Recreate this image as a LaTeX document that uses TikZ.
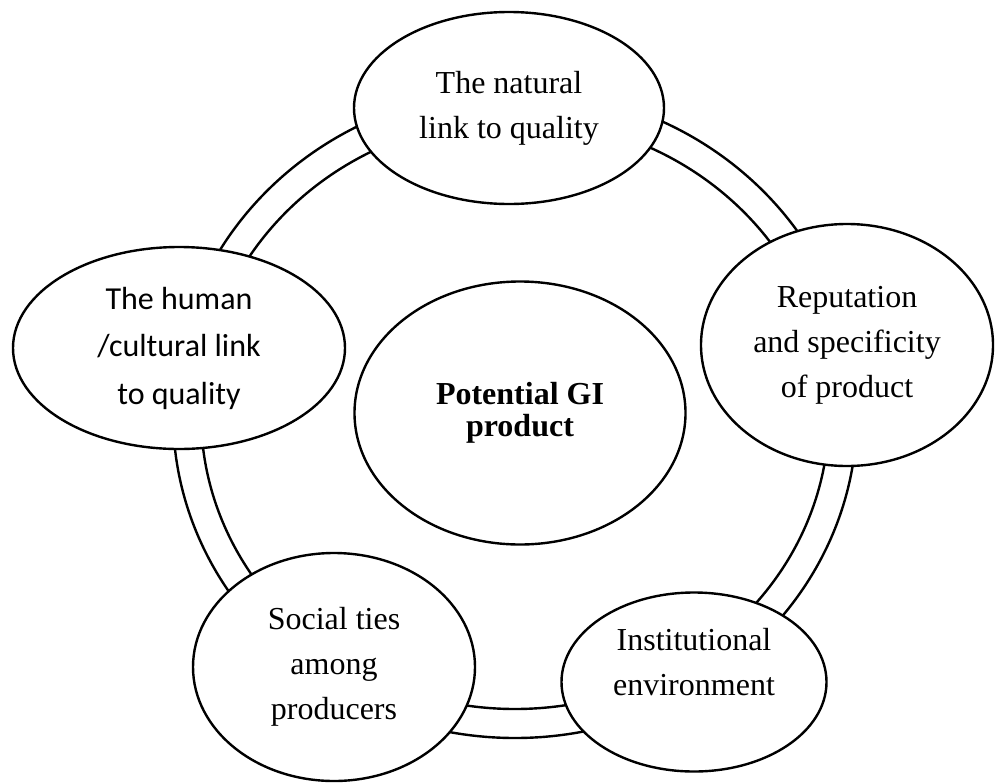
\documentclass[tikz,border=0pt]{standalone}
\usepackage{fontspec}
\setmainfont{Liberation Serif}
\newfontfamily\calibri{Carlito}
\usetikzlibrary{shapes.geometric}

\begin{document}
\begin{tikzpicture}[
  x=0.5pt, y=-0.5pt,
  anillo/.style={line width=1.2pt},
  texto/.style={align=center, font=\fontsize{16}{22.5}\selectfont},
  elipse/.style={ellipse, draw, line width=1.2pt, fill=white, inner sep=0pt, texto}
]
  \useasboundingbox (0,0) rectangle (995,782);
  % doble anillo detras de las elipses
  \coordinate (hub) at (515,414);
  \draw[anillo] (hub) ellipse [x radius=342, y radius=324];
  \draw[anillo] (hub) ellipse [x radius=314, y radius=295];

  \node[elipse, minimum width=155pt, minimum height=96pt] (nat) at (509,108)
    {The natural\\link to quality};
  \node[elipse, minimum width=146pt, minimum height=121pt] (rep) at (847,345)
    {Reputation\\and specificity\\of product};
  \node[elipse, minimum width=132.5pt, minimum height=89.5pt,
        label={[texto, yshift=10pt]center:Institutional\\environment}] (inst) at (694,682) {};
  \node[elipse, minimum width=141pt, minimum height=114pt] (soc) at (334,667)
    {Social ties\\among\\producers};
  \node[elipse, minimum width=166pt, minimum height=101pt,
        font=\fontsize{16}{23.75}\selectfont\calibri] (hum) at (179,348)
    {The human\\/cultural link\\to quality};
  \node[elipse, minimum width=165.5pt, minimum height=131.5pt,
        font=\fontsize{16}{16}\selectfont\bfseries] (gi) at (520,413)
    {Potential GI\\product};
\end{tikzpicture}
\end{document}
